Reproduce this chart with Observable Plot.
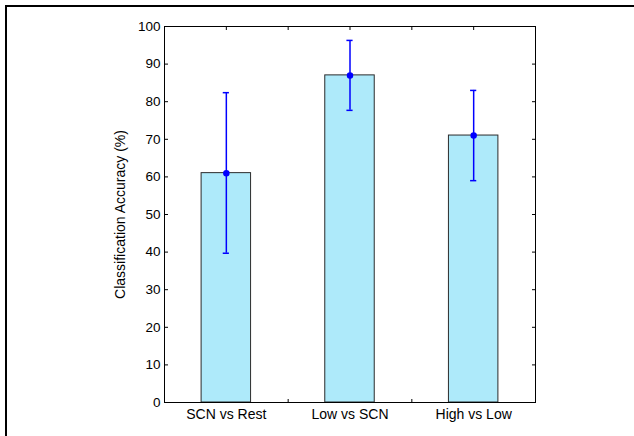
<!DOCTYPE html>
<html><head><meta charset="utf-8">
<script src="https://cdn.jsdelivr.net/npm/d3@7"></script>
<script src="https://cdn.jsdelivr.net/npm/@observablehq/plot@0.6"></script>
<style>
body{margin:0;background:#fff;}
#wrap{position:relative;width:634px;height:436px;overflow:hidden;background:#fff;}
#wrap svg{position:absolute;left:0;top:0;}
#border{position:absolute;left:5px;top:5px;width:700px;height:500px;border-left:2px solid #000;border-top:2px solid #000;pointer-events:none;}
</style></head><body><div id="wrap"><div id="border"></div></div>
<script>
const categories = ["SCN vs Rest", "Low vs SCN", "High vs Low"];
const accuracy = [61, 87, 71];
const errLow = [39.7, 77.7, 59];
const errHigh = [82.4, 96.3, 83];
const yTicks = [0, 10, 20, 30, 40, 50, 60, 70, 80, 90, 100];
const xTicks = [0.5, 1, 1.5, 2, 2.5, 3, 3.5];
const xLabelTicks = [1, 2, 3];
const yTitle = "Classification Accuracy (%)";

const data = categories.map((c, i) => ({c, pos: i + 1, acc: accuracy[i], lo: errLow[i], hi: errHigh[i]}));
const barHalf = 0.2, capHalf = 0.025;
const font = "'Liberation Sans', Arial, Helvetica, sans-serif";
const blue = "#0000ff";

const chart = Plot.plot({
  width: 634, height: 436,
  marginLeft: 164, marginRight: 99, marginTop: 26, marginBottom: 34,
  style: {fontFamily: font, fontSize: "13.5px", color: "#000", background: "transparent", overflow: "visible"},
  x: {domain: [0.5, 3.5]},
  y: {domain: [0, 100]},
  marks: [
    Plot.axisY(yTicks, {anchor: "left", tickSize: -4, tickPadding: 8, tickFormat: d => String(d),
      label: null}),
    Plot.text([yTitle], {frameAnchor: "left", rotate: -90, dx: -49, lineAnchor: "top",
      textAnchor: "middle", fontSize: 14, fill: "#000"}),
    Plot.axisY(yTicks, {anchor: "right", tickSize: -4, fill: "none", label: null}),
    Plot.axisX(xTicks, {anchor: "top", tickSize: -3, fill: "none", label: null}),
    Plot.axisX(xTicks, {anchor: "bottom", tickSize: -3, fill: "none", label: null}),
    Plot.axisX(xLabelTicks, {anchor: "bottom", tickSize: 0, tickPadding: 7, fontSize: 14,
      tickFormat: d => categories[d - 1], label: null}),
    Plot.rect(data, {x1: d => d.pos - barHalf, x2: d => d.pos + barHalf, y1: 0, y2: "acc",
      fill: "#aeeafa", stroke: "#2b2b2b", strokeWidth: 1}),
    Plot.ruleX(data, {x: "pos", y1: "lo", y2: "hi", stroke: blue, strokeWidth: 1.5}),
    Plot.ruleY(data, {y: "hi", x1: d => d.pos - capHalf, x2: d => d.pos + capHalf, stroke: blue, strokeWidth: 1.5}),
    Plot.ruleY(data, {y: "lo", x1: d => d.pos - capHalf, x2: d => d.pos + capHalf, stroke: blue, strokeWidth: 1.5}),
    Plot.dot(data, {x: "pos", y: "acc", r: 2.5, fill: blue, stroke: blue}),
    Plot.frame({stroke: "#000", strokeWidth: 1})
  ]
});
document.getElementById("wrap").prepend(chart);
</script>
</body></html>
